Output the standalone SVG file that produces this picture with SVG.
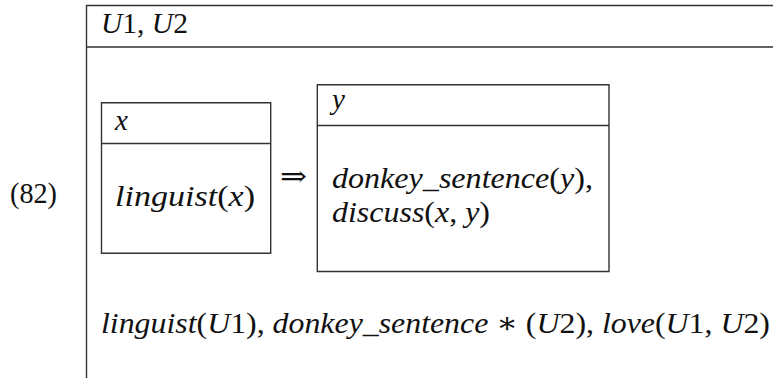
<svg xmlns="http://www.w3.org/2000/svg" width="773" height="378" viewBox="0 0 773 378">
<style>
.ln{stroke:#333;stroke-width:1.4;fill:none}
.m{font-family:'Liberation Serif','DejaVu Serif',serif;font-size:29px;fill:#111}
.i{font-style:italic}
</style>
<rect width="773" height="378" fill="#fff"/>
<g id="outer">
<path class="ln" d="M86.5,378 V5.5 H773 M86.5,47 H773"/>
<text class="m" font-family="Liberation Serif, DejaVu Serif, serif" x="101" y="33" textLength="87" lengthAdjust="spacingAndGlyphs"><tspan class="i">U</tspan>1, <tspan class="i">U</tspan>2</text>
</g>
<g id="label">
<text class="m" font-family="Liberation Serif, DejaVu Serif, serif" x="10" y="203" textLength="47" lengthAdjust="spacingAndGlyphs">(82)</text>
</g>
<g id="antecedent">
<path class="ln" d="M101.5,102.7 H270.7 V253.3 H101.5 Z M101.5,143.5 H270.7"/>
<text class="m i" font-family="Liberation Serif, DejaVu Serif, serif" x="115" y="130">x</text>
<text class="m" font-family="Liberation Serif, DejaVu Serif, serif" x="115" y="206" textLength="140" lengthAdjust="spacingAndGlyphs"><tspan class="i">linguist</tspan>(<tspan class="i">x</tspan>)</text>
</g>
<g id="connectors">
<text class="m" font-family="Liberation Serif, DejaVu Serif, serif" x="280" y="186" textLength="27" lengthAdjust="spacingAndGlyphs">⇒</text>
</g>
<g id="consequent">
<path class="ln" d="M317.3,84.7 H609 V271.5 H317.3 Z M317.3,125.5 H609"/>
<text class="m i" font-family="Liberation Serif, DejaVu Serif, serif" x="332" y="109">y</text>
<text class="m" font-family="Liberation Serif, DejaVu Serif, serif" x="332" y="188" textLength="261" lengthAdjust="spacingAndGlyphs"><tspan class="i">donkey_sentence</tspan>(<tspan class="i">y</tspan>),</text>
<text class="m" font-family="Liberation Serif, DejaVu Serif, serif" x="332" y="222" textLength="158" lengthAdjust="spacingAndGlyphs"><tspan class="i">discuss</tspan>(<tspan class="i">x</tspan>, <tspan class="i">y</tspan>)</text>
</g>
<g id="conditions">
<text class="m" font-family="Liberation Serif, DejaVu Serif, serif" x="101" y="333" textLength="669" lengthAdjust="spacingAndGlyphs"><tspan class="i">linguist</tspan>(<tspan class="i">U</tspan>1), <tspan class="i">donkey_sentence</tspan> ∗ (<tspan class="i">U</tspan>2), <tspan class="i">love</tspan>(<tspan class="i">U</tspan>1, <tspan class="i">U</tspan>2)</text>
</g>
</svg>
